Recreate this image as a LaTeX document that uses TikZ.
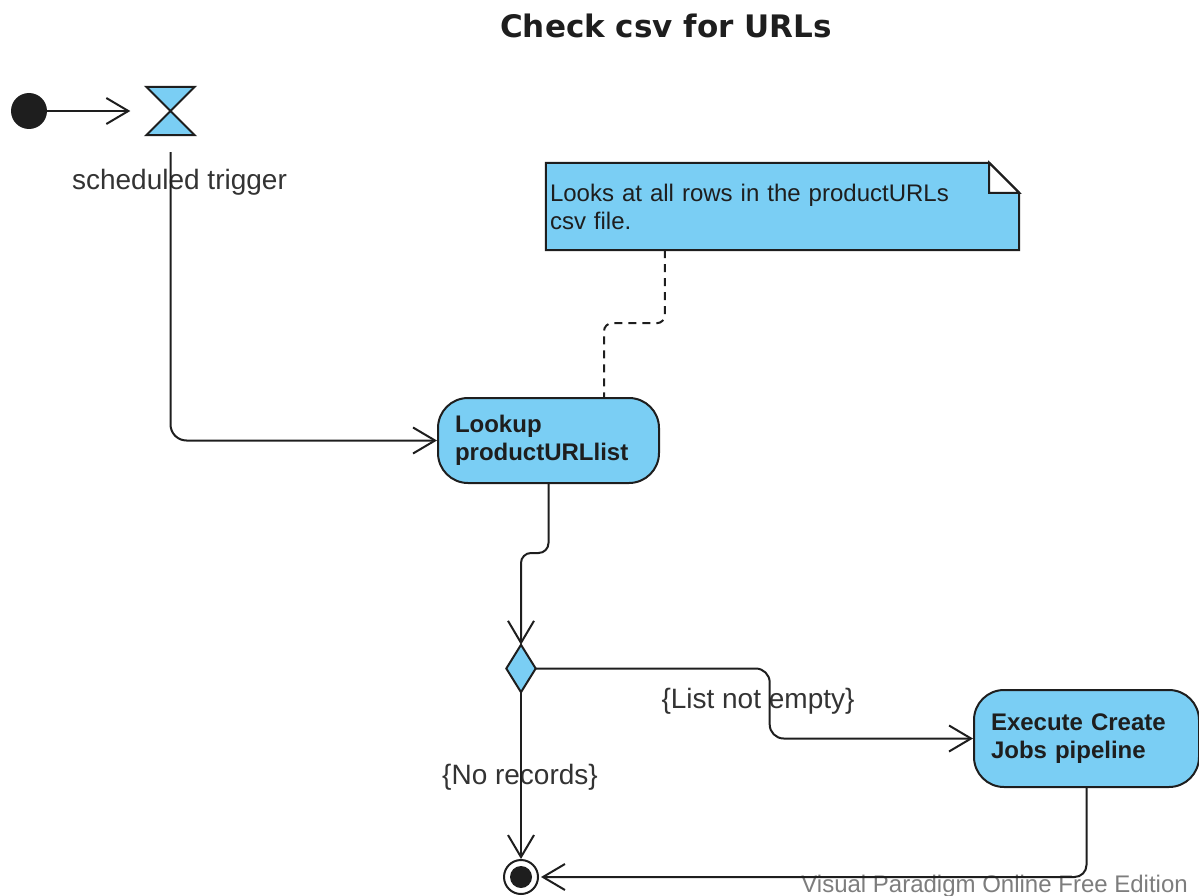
\documentclass[tikz,border=0pt]{standalone}
\usepackage{fontspec}
\setmainfont{Liberation Sans}
\newfontfamily\titlefont{DejaVu Sans}
\usetikzlibrary{arrows.meta,calc,backgrounds}
\definecolor{actfill}{RGB}{122,206,244}
\definecolor{ink}{RGB}{30,30,30}
\definecolor{labelink}{RGB}{51,51,51}
\definecolor{markgray}{RGB}{125,125,125}
\begin{document}
\begin{tikzpicture}[x=1pt,y=-1pt,
  flow/.style={draw=ink, line width=2pt, rounded corners=14pt,
    -{Straight Barb[length=22pt,width=26pt]}},
  notelink/.style={draw=ink, line width=2pt, rounded corners=8pt,
    dash pattern=on 8pt off 6pt},
  activity/.style={draw=ink, fill=actfill, line width=2pt, rounded corners=30pt,
    align=left, inner xsep=17pt, inner ysep=0pt, text=ink,
    font={\fontsize{24}{28}\selectfont\bfseries}},
  shapebox/.style={draw=ink, fill=actfill, line width=2pt, line join=miter},
  guard/.style={text=labelink, font={\fontsize{28}{32}\selectfont}, inner sep=0pt},
  notetext/.style={text width=465pt, inner xsep=4pt, inner ysep=0pt,
    minimum height=87pt, align=left, text=ink,
    font={\fontsize{24}{28}\selectfont}}
]
\useasboundingbox (0,0) rectangle (1199,896);

% title
\node[anchor=base, inner sep=0pt, text=ink,
  font={\titlefont\fontsize{31}{36}\selectfont\bfseries}] (title) at (666,38)
  {Check csv for URLs};

% initial node and timer trigger
\node[circle, fill=ink, minimum size=36pt, inner sep=0pt] (init) at (29,111) {};
\node[minimum width=48pt, minimum height=48pt, inner sep=0pt] (trig) at (170.5,111) {};
\path[shapebox] (trig.north west) -- (trig.north east) -- (trig.south west)
  -- (trig.south east) -- cycle;
\node[guard, anchor=base] (trigname) at (179.5,190) {scheduled trigger};

% note
\node[notetext] (note) at (782.5,206.5)
  {Looks at all rows in the productURLs\\csv file.};
\begin{scope}[on background layer]
  \path[shapebox] (note.south west) -- (note.north west)
    -- ([xshift=-30pt]note.north east) -- ([yshift=-30pt]note.north east)
    -- (note.south east) -- cycle;
  \path[draw=ink, fill=white, line width=2pt, line join=miter]
    ([xshift=-30pt]note.north east) -- ([xshift=-30pt,yshift=-30pt]note.north east)
    -- ([yshift=-30pt]note.north east) -- cycle;
\end{scope}

% actions
\node[activity, text width=187pt, minimum height=85pt] (lookup) at (548.5,440.5)
  {Lookup\\productURLlist};
\node[activity, text width=191pt, minimum height=97pt] (exec) at (1086.5,738.5)
  {Execute Create\\Jobs pipeline};

% decision
\node[minimum width=29pt, minimum height=47pt, inner sep=0pt] (dec) at (521,668.5) {};
\path[shapebox] (dec.north) -- (dec.east) -- (dec.south) -- (dec.west) -- cycle;

% final node
\node[circle, draw=ink, fill=white, line width=2pt, minimum size=34pt, inner sep=0pt]
  (final) at (521,877) {};
\fill[ink] (final.center) circle[radius=11pt];

% guard labels
\node[guard, anchor=base] (notempty) at (758,708) {\{List not empty\}};
\node[guard, anchor=base] (norec) at (520,784) {\{No records\}};

% edition mark
\node[anchor=base east, inner sep=0pt, text=markgray,
  font={\fontsize{24}{28}\selectfont}] (mark) at (1188,892)
  {Visual Paradigm Online Free Edition};

% connectors
\draw[flow] (init) -- ([xshift=-16pt]trig.west);
\draw[flow, rounded corners=16pt] ([yshift=-17pt]trig.south) |- (lookup.west);
\draw[notelink] ([xshift=119pt]note.south west) -- ++(0,73)
  -| ([xshift=167pt]lookup.north west);
\draw[flow, rounded corners=10pt] (lookup.south) -- ++(0,69) -| (dec.north);
\draw[flow] (dec.east) -- ++(234,0) |- (exec.west);
\draw[flow] (dec.south) -- (final.north);
\draw[flow, rounded corners=12pt] (exec.south) |- ([xshift=2pt]final.east);
\end{tikzpicture}
\end{document}
